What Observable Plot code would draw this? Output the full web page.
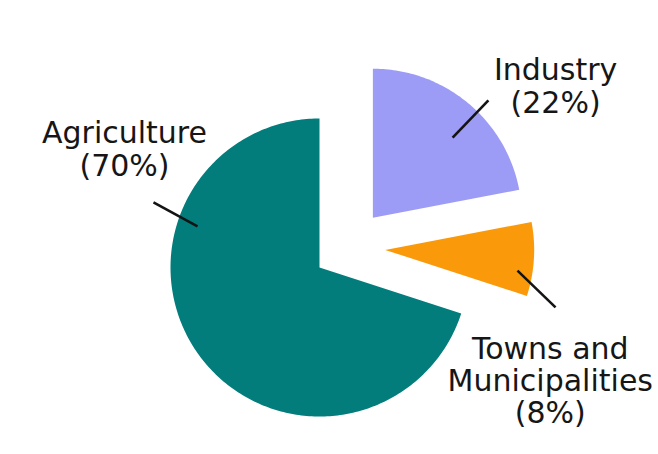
<!DOCTYPE html>
<html>
<head>
<meta charset="utf-8">
<script src="https://cdn.jsdelivr.net/npm/d3@7"></script>
<script src="https://cdn.jsdelivr.net/npm/@observablehq/plot@0.6"></script>
<style>
  html, body { margin: 0; padding: 0; background: #ffffff; }
  #chart svg { display: block; }
</style>
</head>
<body>
<div id="chart"></div>
<script>
// ---- data ----
const categories = ["Agriculture", "Industry", "Towns and Municipalities"];
const shares = [70, 22, 8];
const labelNames = ["Agriculture", "Industry", "Towns and\nMunicipalities"];
const colors = ["#037c7c", "#9c9cf7", "#fa9a0b"];

// ---- layout (styling, not data) ----
const W = 658, H = 454;
const center = {x: 319, y: 267};
const R = 149;
const explode = [{d: 0, a: 0}, {d: 73, a: 47}, {d: 68, a: 75}];          // px, degrees clockwise from north
const labelPos = [{r: 228, a: 301.2}, {r: 298, a: 52.4}, {r: 257, a: 116.1}];
const leaderPos = [
  {r1: 128.7, a1: 288.6, r2: 178.3, a2: 291.4},
  {r1: 186, a1: 45.7, r2: 237.6, a2: 45.3},
  {r1: 198, a1: 90.9, r2: 239.4, a2: 99.6}
];
const lineHeights = [1.1, 1.1, 1.07];

const rad = Math.PI / 180;
const polar = (r, deg) => [r * Math.sin(deg * rad), -r * Math.cos(deg * rad)];

// Agriculture ends at 12 o'clock; slices run clockwise
const total = d3.sum(shares);
const a0 = 2 * Math.PI * (1 - shares[0] / total);
const arcs = d3.pie().sort(null).startAngle(a0).endAngle(a0 + 2 * Math.PI)(shares);

const slices = arcs.map((arc, i) => {
  const [ox, oy] = polar(explode[i].d, explode[i].a);
  const cx = center.x + ox, cy = center.y + oy;
  const pts = [{x: cx, y: cy}];
  const n = Math.max(8, Math.ceil((arc.endAngle - arc.startAngle) / rad));
  for (let k = 0; k <= n; k++) {
    const t = arc.startAngle + (arc.endAngle - arc.startAngle) * k / n;
    pts.push({x: cx + R * Math.sin(t), y: cy - R * Math.cos(t)});
  }
  pts.push({x: cx, y: cy});
  return {category: categories[i], color: colors[i], points: pts};
});

const leaders = categories.map((c, i) => {
  const L = leaderPos[i];
  const [x1, y1] = polar(L.r1, L.a1);
  const [x2, y2] = polar(L.r2, L.a2);
  return {category: c, x1: center.x + x1, y1: center.y + y1, x2: center.x + x2, y2: center.y + y2};
});

const labels = categories.map((c, i) => {
  const [dx, dy] = polar(labelPos[i].r, labelPos[i].a);
  return {category: c, text: `${labelNames[i]}\n(${shares[i]}%)`, x: center.x + dx, y: center.y + dy};
});

const marks = [
  ...slices.map(s => Plot.line(s.points, {x: "x", y: "y", fill: s.color, stroke: "none", curve: "linear"})),
  Plot.link(leaders, {x1: "x1", y1: "y1", x2: "x2", y2: "y2", stroke: "#141414", strokeWidth: 2.6}),
  ...labels.map((l, i) => Plot.text([l], {
    x: "x", y: "y", text: "text",
    fill: "#161616", fontSize: 30, textAnchor: "middle", lineAnchor: "middle",
    lineHeight: lineHeights[i]
  }))
];

const chart = Plot.plot({
  width: W,
  height: H,
  margin: 0,
  x: {domain: [0, W], range: [0, W], axis: null},
  y: {domain: [0, H], range: [0, H], axis: null},
  style: {background: "#ffffff", fontFamily: "'DejaVu Sans', Verdana, sans-serif"},
  marks
});
document.getElementById("chart").appendChild(chart);
</script>
</body>
</html>
